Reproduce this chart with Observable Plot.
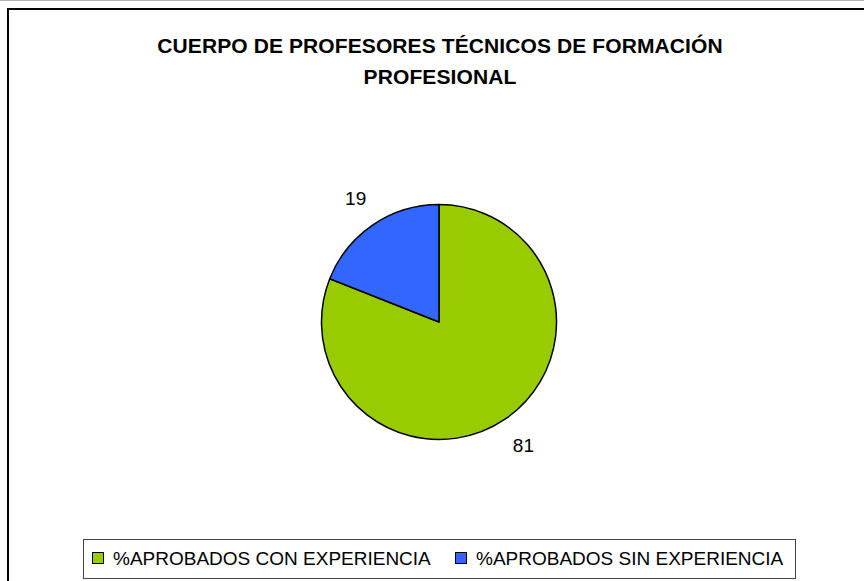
<!DOCTYPE html>
<html>
<head>
<meta charset="utf-8">
<script src="https://cdn.jsdelivr.net/npm/d3@7"></script>
<script src="https://cdn.jsdelivr.net/npm/@observablehq/plot@0.6"></script>
<style>
  html, body { margin: 0; padding: 0; background: #fff; }
  #wrap { position: relative; width: 864px; height: 581px; overflow: hidden; font-family: "Liberation Sans", Arial, sans-serif; }
  #topline { position: absolute; left: 0; top: 0; width: 864px; height: 1px; background: #b0b0b0; }
  #frame { position: absolute; left: 7px; top: 8px; width: 900px; height: 620px; border: 2px solid #000; box-sizing: border-box; }
  #title { position: absolute; left: 0; width: 880px; top: 30px; text-align: center; font-weight: bold; font-size: 21px; line-height: 31px; color: #000; letter-spacing: 0.1px; }
  #chart { position: absolute; left: 0; top: 100px; }
  #legend { position: absolute; left: 83px; top: 539px; width: 713px; height: 40px; border: 1px solid #444; box-sizing: border-box; font-size: 19px; color: #000; }
  .item { position: absolute; top: 9px; white-space: nowrap; line-height: 20px; }
  .sw { display: inline-block; width: 10px; height: 10px; border: 1.5px solid #000; vertical-align: 1px; margin-right: 9px; }
</style>
</head>
<body>
<div id="wrap">
  <div id="topline"></div>
  <div id="frame"></div>
  <div id="title"></div>
  <div id="chart"></div>
  <div id="legend"></div>
</div>
<script>
const titleLines = ["CUERPO DE PROFESORES TÉCNICOS DE FORMACIÓN", "PROFESIONAL"];
const categories = ["%APROBADOS CON EXPERIENCIA", "%APROBADOS SIN EXPERIENCIA"];
const values = [81, 19];
const colors = ["#99CC00", "#3366FF"];

document.getElementById("title").innerHTML = titleLines.join("<br>");

const legend = document.getElementById("legend");
const legendX = [8, 371];
categories.forEach((c, i) => {
  const d = document.createElement("div");
  d.className = "item";
  d.style.left = legendX[i] + "px";
  d.innerHTML = `<span class="sw" style="background:${colors[i]}"></span>${c}`;
  legend.appendChild(d);
});

const data = categories.map((c, i) => ({category: c, value: values[i], color: colors[i]}));
const arcs = d3.pie().sort(null).value(d => d.value)(data);
const labelR = 1.27;
const labels = arcs.map(a => {
  const m = (a.startAngle + a.endAngle) / 2;
  return {text: String(a.data.value), x: labelR * Math.sin(m), y: labelR * Math.cos(m)};
});

const cx = 439, cy = 222, R = 117.5;

function pieMark(index, scales) {
  const sx = scales.x, sy = scales.y;
  const x0 = sx(0), y0 = sy(0), r = sx(1) - sx(0);
  const arc = d3.arc().innerRadius(0).outerRadius(r);
  const g = d3.create("svg:g").attr("transform", `translate(${x0},${y0})`);
  g.selectAll("path").data(arcs).join("path")
    .attr("d", arc)
    .attr("fill", d => d.data.color)
    .attr("stroke", "#000")
    .attr("stroke-width", 1.5)
    .attr("stroke-linejoin", "round");
  return g.node();
}

const chart = Plot.plot({
  width: 864,
  height: 420,
  margin: 0,
  style: {background: "transparent", overflow: "visible"},
  x: {type: "linear", domain: [-1, 1], range: [cx - R, cx + R], axis: null},
  y: {type: "linear", domain: [-1, 1], range: [cy + R, cy - R], axis: null},
  marks: [
    pieMark,
    Plot.text(labels, {x: "x", y: "y", text: "text", fontSize: 19, fill: "#000", fontFamily: "Liberation Sans, Arial, sans-serif"})
  ]
});
document.getElementById("chart").appendChild(chart);
</script>
</body>
</html>
